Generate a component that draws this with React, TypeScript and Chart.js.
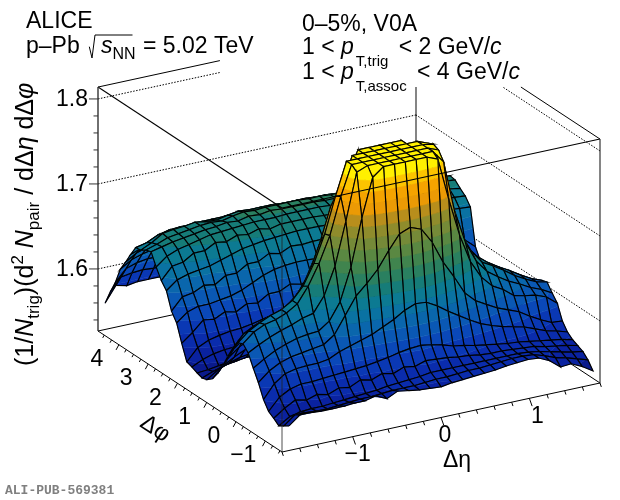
import * as React from 'react';
import {useEffect, useRef} from 'react';
import {Chart, registerables} from 'chart.js';

Chart.register(...registerables);

const FONT = '"Liberation Sans", Arial, sans-serif';

// bins of the correlation
const etaMin = -1.72;
const etaStep = 0.1229;
const phiMin = -Math.PI / 2;
const phiStep = (2 * Math.PI) / 36;

// axis ranges
const etaRange = [-1.8, 1.8];
const phiRange = [-Math.PI / 2, (3 * Math.PI) / 2];
const zRange = [1.527, 1.814];

const etaMajor = [-1, 0, 1];
const etaMinor = [-1.8, -1.6, -1.4, -1.2, -0.8, -0.6, -0.4, -0.2, 0.2, 0.4, 0.6, 0.8, 1.2, 1.4, 1.6, 1.8];
const phiMajor = [-1, 0, 1, 2, 3, 4];
const phiMinor = [-1.5, -1.25, -0.75, -0.5, -0.25, 0.25, 0.5, 0.75, 1.25, 1.5, 1.75, 2.25, 2.5, 2.75, 3.25, 3.5, 3.75, 4.25, 4.5];
const zMajor = [1.6, 1.7, 1.8];
const zMinor = [1.54, 1.56, 1.58, 1.62, 1.64, 1.66, 1.68, 1.72, 1.74, 1.76, 1.78];

const levelStep = 0.013;
const levelStart = 1.54;
const levelColors = [
  '#0a1a8c', '#0a22a0', '#0a2cac', '#0a38b4', '#0a48b8', '#0a58b4', '#0a66ac', '#0a72a2', '#0c7a92', '#167c78',
  '#2a8060', '#40844e', '#5a8842', '#758a38', '#8f8c2c', '#b88e1c', '#eb9a05', '#f5a300', '#fcc400', '#fff000',
];

// rows: dphi from -pi/2 up, columns: deta from -1.72 up
const zValues = [
  [1.556,1.566,1.566,1.565,1.565,1.565,1.566,1.566,1.569,1.563,1.569,1.567,1.565,1.564,1.563,1.565,1.566,1.567,1.568,1.569,1.571,1.572,1.573,1.572,1.566,1.556,1.557,1.551,1.543],
  [1.552,1.562,1.562,1.561,1.561,1.562,1.563,1.564,1.564,1.565,1.566,1.566,1.566,1.567,1.568,1.568,1.569,1.570,1.570,1.571,1.572,1.573,1.573,1.572,1.568,1.563,1.560,1.556,1.552],
  [1.548,1.556,1.559,1.560,1.560,1.561,1.562,1.563,1.564,1.565,1.567,1.568,1.569,1.570,1.572,1.572,1.572,1.572,1.572,1.572,1.572,1.572,1.572,1.571,1.569,1.566,1.563,1.560,1.558],
  [1.553,1.562,1.569,1.566,1.570,1.567,1.572,1.570,1.576,1.573,1.578,1.575,1.580,1.578,1.582,1.581,1.580,1.578,1.577,1.575,1.574,1.574,1.573,1.572,1.571,1.568,1.566,1.564,1.561],
  [1.557,1.571,1.578,1.581,1.581,1.582,1.583,1.584,1.585,1.586,1.588,1.590,1.593,1.595,1.596,1.594,1.591,1.587,1.585,1.582,1.580,1.578,1.576,1.575,1.573,1.571,1.569,1.567,1.564],
  [1.567,1.583,1.592,1.595,1.596,1.596,1.598,1.604,1.608,1.612,1.616,1.622,1.628,1.636,1.641,1.640,1.633,1.624,1.616,1.608,1.601,1.596,1.592,1.589,1.586,1.581,1.576,1.573,1.569],
  [1.583,1.594,1.601,1.605,1.607,1.609,1.611,1.620,1.640,1.660,1.672,1.686,1.705,1.722,1.727,1.722,1.704,1.678,1.658,1.636,1.624,1.617,1.610,1.605,1.600,1.592,1.585,1.579,1.578],
  [1.596,1.604,1.611,1.616,1.620,1.622,1.623,1.632,1.652,1.690,1.745,1.790,1.800,1.800,1.800,1.800,1.800,1.795,1.745,1.700,1.666,1.645,1.632,1.625,1.615,1.612,1.610,1.605,1.595],
  [1.610,1.617,1.623,1.628,1.632,1.637,1.640,1.658,1.690,1.740,1.795,1.800,1.800,1.800,1.800,1.800,1.800,1.800,1.785,1.725,1.685,1.660,1.645,1.636,1.628,1.622,1.615,1.610,1.603],
  [1.617,1.628,1.634,1.637,1.642,1.650,1.668,1.692,1.722,1.765,1.800,1.800,1.800,1.800,1.800,1.800,1.800,1.800,1.795,1.735,1.692,1.668,1.652,1.645,1.637,1.628,1.621,1.615,1.612],
  [1.614,1.625,1.632,1.638,1.642,1.650,1.664,1.688,1.720,1.762,1.800,1.800,1.800,1.800,1.800,1.800,1.800,1.800,1.798,1.738,1.695,1.670,1.655,1.645,1.637,1.630,1.622,1.615,1.610],
  [1.604,1.618,1.625,1.630,1.634,1.640,1.652,1.672,1.705,1.745,1.765,1.800,1.800,1.800,1.800,1.800,1.800,1.800,1.795,1.720,1.685,1.660,1.645,1.636,1.628,1.622,1.615,1.608,1.600],
  [1.590,1.606,1.615,1.620,1.624,1.630,1.640,1.656,1.684,1.715,1.745,1.772,1.800,1.800,1.800,1.800,1.800,1.775,1.735,1.695,1.665,1.645,1.632,1.624,1.618,1.612,1.604,1.596,1.590],
  [1.575,1.592,1.602,1.608,1.612,1.618,1.626,1.636,1.655,1.672,1.695,1.718,1.735,1.745,1.748,1.742,1.725,1.698,1.672,1.650,1.636,1.624,1.616,1.610,1.604,1.598,1.590,1.582,1.575],
  [1.562,1.578,1.588,1.594,1.598,1.600,1.603,1.608,1.614,1.622,1.630,1.640,1.652,1.662,1.664,1.660,1.650,1.638,1.625,1.615,1.608,1.602,1.598,1.594,1.590,1.584,1.578,1.572,1.565],
  [1.552,1.565,1.572,1.578,1.580,1.582,1.584,1.586,1.590,1.594,1.598,1.602,1.608,1.612,1.614,1.612,1.606,1.600,1.595,1.590,1.586,1.583,1.580,1.578,1.574,1.570,1.565,1.560,1.556],
  [1.547,1.556,1.561,1.565,1.567,1.568,1.570,1.571,1.573,1.575,1.578,1.581,1.584,1.586,1.587,1.586,1.583,1.580,1.577,1.574,1.572,1.570,1.568,1.566,1.563,1.560,1.556,1.553,1.550],
  [1.545,1.550,1.554,1.556,1.558,1.559,1.560,1.560,1.562,1.563,1.565,1.566,1.568,1.570,1.570,1.569,1.568,1.566,1.564,1.562,1.561,1.560,1.558,1.557,1.555,1.553,1.551,1.549,1.548],
  [1.547,1.548,1.550,1.552,1.553,1.553,1.554,1.555,1.555,1.556,1.557,1.558,1.559,1.560,1.560,1.560,1.559,1.558,1.557,1.556,1.555,1.554,1.553,1.552,1.551,1.550,1.549,1.548,1.548],
  [1.550,1.556,1.560,1.562,1.563,1.564,1.565,1.566,1.567,1.568,1.569,1.570,1.571,1.572,1.572,1.571,1.570,1.569,1.568,1.567,1.566,1.565,1.564,1.563,1.562,1.560,1.557,1.554,1.550],
  [1.552,1.566,1.572,1.575,1.577,1.578,1.580,1.583,1.586,1.588,1.590,1.590,1.590,1.590,1.589,1.588,1.587,1.586,1.585,1.584,1.582,1.580,1.578,1.576,1.573,1.570,1.565,1.560,1.555],
  [1.570,1.580,1.592,1.590,1.596,1.593,1.600,1.598,1.606,1.606,1.612,1.609,1.613,1.612,1.611,1.610,1.608,1.606,1.604,1.602,1.600,1.598,1.596,1.594,1.592,1.588,1.583,1.577,1.570],
  [1.590,1.600,1.604,1.604,1.606,1.608,1.612,1.618,1.624,1.628,1.630,1.631,1.631,1.630,1.630,1.629,1.628,1.626,1.624,1.622,1.620,1.618,1.615,1.612,1.609,1.604,1.598,1.592,1.585],
  [1.600,1.614,1.616,1.622,1.620,1.628,1.628,1.636,1.636,1.643,1.640,1.646,1.645,1.646,1.646,1.645,1.644,1.642,1.640,1.638,1.636,1.634,1.632,1.629,1.626,1.622,1.617,1.609,1.598],
  [1.620,1.630,1.634,1.636,1.638,1.642,1.646,1.650,1.652,1.654,1.655,1.656,1.657,1.657,1.657,1.656,1.655,1.654,1.653,1.652,1.650,1.648,1.647,1.646,1.645,1.644,1.643,1.642,1.641],
  [1.628,1.642,1.644,1.652,1.652,1.659,1.657,1.662,1.660,1.664,1.661,1.664,1.664,1.664,1.664,1.663,1.663,1.662,1.661,1.660,1.659,1.658,1.657,1.656,1.655,1.654,1.653,1.651,1.650],
  [1.640,1.650,1.655,1.658,1.661,1.664,1.665,1.666,1.667,1.668,1.668,1.668,1.669,1.669,1.669,1.669,1.668,1.668,1.667,1.666,1.665,1.664,1.663,1.662,1.661,1.660,1.658,1.657,1.655],
  [1.654,1.657,1.660,1.662,1.664,1.666,1.667,1.669,1.668,1.671,1.670,1.672,1.671,1.671,1.671,1.671,1.670,1.670,1.669,1.668,1.667,1.667,1.666,1.665,1.664,1.663,1.662,1.662,1.661],
  [1.652,1.656,1.661,1.663,1.665,1.667,1.668,1.667,1.670,1.672,1.671,1.672,1.672,1.672,1.672,1.671,1.671,1.670,1.670,1.669,1.668,1.667,1.666,1.665,1.665,1.664,1.663,1.662,1.662],
  [1.648,1.654,1.662,1.664,1.665,1.667,1.665,1.664,1.667,1.669,1.668,1.668,1.668,1.667,1.667,1.667,1.666,1.666,1.665,1.665,1.664,1.663,1.662,1.661,1.660,1.659,1.658,1.656,1.655],
  [1.647,1.650,1.656,1.659,1.660,1.660,1.661,1.661,1.661,1.662,1.662,1.661,1.661,1.661,1.661,1.660,1.660,1.660,1.659,1.659,1.658,1.657,1.656,1.655,1.654,1.652,1.650,1.648,1.645],
  [1.635,1.640,1.645,1.650,1.652,1.653,1.652,1.652,1.652,1.651,1.651,1.651,1.650,1.650,1.650,1.649,1.649,1.648,1.648,1.647,1.646,1.645,1.644,1.643,1.642,1.641,1.639,1.637,1.635],
  [1.622,1.630,1.634,1.638,1.640,1.641,1.640,1.640,1.639,1.639,1.638,1.638,1.637,1.637,1.636,1.636,1.635,1.635,1.634,1.633,1.632,1.631,1.630,1.629,1.628,1.626,1.624,1.622,1.620],
  [1.610,1.618,1.622,1.625,1.626,1.626,1.625,1.624,1.624,1.623,1.623,1.622,1.622,1.621,1.621,1.620,1.620,1.619,1.618,1.617,1.616,1.615,1.614,1.613,1.612,1.611,1.609,1.607,1.605],
  [1.590,1.604,1.608,1.610,1.610,1.609,1.608,1.608,1.607,1.607,1.606,1.606,1.605,1.605,1.604,1.604,1.603,1.603,1.602,1.601,1.600,1.599,1.598,1.597,1.596,1.595,1.594,1.592,1.590],
  [1.575,1.590,1.592,1.593,1.592,1.592,1.591,1.591,1.590,1.590,1.589,1.589,1.588,1.588,1.587,1.587,1.586,1.586,1.585,1.585,1.584,1.583,1.582,1.581,1.580,1.579,1.578,1.576,1.575],
  [1.558,1.576,1.573,1.575,1.575,1.575,1.574,1.574,1.573,1.573,1.572,1.572,1.571,1.571,1.570,1.570,1.570,1.569,1.569,1.568,1.568,1.567,1.566,1.565,1.564,1.563,1.562,1.561,1.560],
];

type Node3 = {eta: number; phi: number; z: number};

// the 3d box on the page, every mark goes through this
const project = (eta: number, phi: number, z: number) => {
  const u = (eta - etaRange[0]) / (etaRange[1] - etaRange[0]);
  const v = (phi - phiRange[0]) / (phiRange[1] - phiRange[0]);
  return {
    x: 282 + 318 * u - 184 * v,
    y: 452 - 69 * u - 121 * v - (z - zRange[0]) * 850,
  };
};

const lineSet = (points: {x: number; y: number}[], color: string, width: number, dash?: number[]) => ({
  data: points,
  showLine: true,
  fill: false,
  borderColor: color,
  borderWidth: width,
  borderDash: dash || [],
  pointRadius: 0,
  tension: 0,
});

const clipZ = (poly: Node3[], limit: number, keepAbove: boolean) => {
  const out: Node3[] = [];
  poly.forEach((a, k) => {
    const b = poly[(k + 1) % poly.length];
    const aIn = keepAbove ? a.z >= limit : a.z <= limit;
    const bIn = keepAbove ? b.z >= limit : b.z <= limit;
    if (aIn) out.push(a);
    if (aIn !== bIn) {
      const t = (limit - a.z) / (b.z - a.z);
      out.push({eta: a.eta + (b.eta - a.eta) * t, phi: a.phi + (b.phi - a.phi) * t, z: limit});
    }
  });
  return out;
};

const surfaceSets = () => {
  const sets: any[] = [];
  for (let j = zValues.length - 2; j >= 0; j--) {
    for (let i = zValues[j].length - 2; i >= 0; i--) {
      const node = (a: number, b: number): Node3 => ({
        eta: etaMin + a * etaStep,
        phi: phiMin + b * phiStep,
        z: zValues[b][a],
      });
      const cell = [node(i, j), node(i + 1, j), node(i + 1, j + 1), node(i, j + 1)];
      const lo = Math.min(...cell.map(c => c.z));
      const hi = Math.max(...cell.map(c => c.z));
      levelColors.forEach((color, k) => {
        const bandLo = k === 0 ? 0 : levelStart + k * levelStep;
        const bandHi = k === levelColors.length - 1 ? 9 : levelStart + (k + 1) * levelStep;
        if (hi < bandLo || lo > bandHi) return;
        const part = clipZ(clipZ(cell, bandLo, true), bandHi, false);
        if (part.length < 3) return;
        const points = part.map(p => project(p.eta, p.phi, p.z));
        points.push(points[0]);
        sets.push({...lineSet(points, color, 0.5), fill: 'shape', backgroundColor: color});
      });
      const outline = cell.map(p => project(p.eta, p.phi, p.z));
      outline.push(outline[0]);
      sets.push(lineSet(outline, '#000', 1.15));
    }
  }
  return sets;
};

const backSets = () => {
  const [eLo, eHi] = etaRange;
  const [pLo, pHi] = phiRange;
  const [zLo, zHi] = zRange;
  const dotted = [1.5, 1.5];
  const sets: any[] = [
    lineSet([project(eLo, pHi, zLo), project(eHi, pHi, zLo), project(eHi, pLo, zLo)], '#000', 1),
    lineSet([project(eLo, pHi, zHi), project(-0.42, pHi, zHi)], '#000', 1),
    lineSet([project(eHi, pLo, zHi), project(eHi, 1.13, zHi)], '#000', 1),
    lineSet([project(eHi, pHi, zLo), project(eHi, pHi, 1.733)], '#333', 1.2),
  ];
  zMajor.forEach(z => {
    const left = z === 1.8 ? -0.42 : eHi;
    const right = z === 1.8 ? 1.74 : pHi;
    sets.push(lineSet([project(eLo, pHi, z), project(left, pHi, z)], '#000', 1, dotted));
    sets.push(lineSet([project(eHi, pLo, z), project(eHi, right, z)], '#000', 1, dotted));
  });
  return sets;
};

const tickSet = (p: {x: number; y: number}, dx: number, dy: number, color = '#000') =>
  lineSet([p, {x: p.x + dx, y: p.y + dy}], color, 1);

const frontSets = () => {
  const [eLo, eHi] = etaRange;
  const [pLo, pHi] = phiRange;
  const [zLo, zHi] = zRange;
  const sets: any[] = [
    lineSet([project(eLo, pLo, zHi), project(eHi, pLo, zHi)], '#000', 1.1),
    lineSet([project(eLo, pHi, zHi), project(eLo, pLo, zHi)], '#000', 1.1),
    lineSet([project(eLo, pLo, zLo), project(eLo, pLo, zHi)], '#222', 0.8),
    lineSet([project(eLo, pHi, zLo), project(eLo, pHi, zHi)], '#333', 1.4),
    lineSet([project(eHi, pLo, zLo), project(eHi, pLo, zHi)], '#333', 1.2),
    lineSet([project(eLo, pLo, zLo), project(eHi, pLo, zLo)], '#000', 1),
    lineSet([project(eLo, pLo, zLo), project(eLo, pHi, zLo)], '#000', 1),
  ];
  etaMajor.forEach(e => sets.push(tickSet(project(e, pLo, zLo), 2.8, 7.8)));
  etaMinor.forEach(e => sets.push(tickSet(project(e, pLo, zLo), 1.3, 3.9)));
  phiMajor.forEach(p => sets.push(tickSet(project(eLo, p, zLo), -2.8, 5.2)));
  phiMinor.forEach(p => sets.push(tickSet(project(eLo, p, zLo), -1.5, 2.8)));
  zMajor.forEach(z => sets.push(tickSet(project(eLo, pHi, z), -9, 0, '#333')));
  zMinor.forEach(z => sets.push(tickSet(project(eLo, pHi, z), -4.5, 0, '#333')));
  return sets;
};

type Run = {t: string; size?: number; italic?: boolean; dy?: number; dx?: number};

const drawRuns = (ctx: CanvasRenderingContext2D, runs: Run[], x: number, y: number, base: number) => {
  let cx = x;
  runs.forEach(r => {
    cx += r.dx || 0;
    ctx.font = `${r.italic ? 'italic ' : ''}${r.size || base}px ${FONT}`;
    ctx.fillText(r.t, cx, y + (r.dy || 0));
    cx += ctx.measureText(r.t).width;
  });
  return cx;
};

const labelsPlugin = {
  id: 'aliceLabels',
  afterDraw(chart: any) {
    const ctx: CanvasRenderingContext2D = chart.ctx;
    ctx.save();
    ctx.fillStyle = '#000';
    ctx.textBaseline = 'alphabetic';
    ctx.textAlign = 'left';

    ctx.font = `23px ${FONT}`;
    ctx.fillText('ALICE', 26, 28);
    drawRuns(ctx, [{t: 'p–Pb'}], 26, 53, 23);
    const sEnd = drawRuns(ctx, [{t: 's', italic: true}, {t: 'NN', size: 16, dy: 6}], 101, 53, 23);
    ctx.strokeStyle = '#000';
    ctx.lineWidth = 1;
    ctx.beginPath();
    ctx.moveTo(89.3, 46.7);
    ctx.lineTo(92, 58);
    ctx.lineTo(95, 35);
    ctx.lineTo(132.5, 35);
    ctx.stroke();
    drawRuns(ctx, [{t: ' = 5.02 TeV'}], sEnd + 1, 53, 23);

    drawRuns(ctx, [{t: '0–5%, V0A'}], 302, 31, 23);
    drawRuns(ctx, [
      {t: '1 < '}, {t: 'p', italic: true}, {t: 'T,trig', size: 15, dy: 12, dx: 2},
      {t: ' < 2 GeV/', dx: 4}, {t: 'c', italic: true},
    ], 302, 54, 23);
    drawRuns(ctx, [
      {t: '1 < '}, {t: 'p', italic: true}, {t: 'T,assoc', size: 15, dy: 12, dx: 2},
      {t: ' < 4 GeV/', dx: 4}, {t: 'c', italic: true},
    ], 302, 79, 23);

    ctx.save();
    ctx.translate(33, 366);
    ctx.rotate(-Math.PI / 2);
    drawRuns(ctx, [
      {t: '(1/'}, {t: 'N', italic: true}, {t: 'trig', size: 17, dy: 6}, {t: ')(d'}, {t: '2', size: 17, dy: -10},
      {t: ' '}, {t: 'N', italic: true}, {t: 'pair', size: 17, dy: 6}, {t: ' / dΔ'}, {t: 'η', italic: true},
      {t: ' dΔ'}, {t: 'φ', italic: true},
    ], 0, 0, 25);
    ctx.restore();

    ctx.font = `23px ${FONT}`;
    ctx.textAlign = 'right';
    ctx.textBaseline = 'middle';
    zMajor.forEach(z => ctx.fillText(z.toFixed(1), 88, project(etaRange[0], phiRange[1], z).y + 1));

    ctx.textAlign = 'center';
    etaMajor.forEach(e => {
      const p = project(e, phiRange[0], zRange[0]);
      ctx.fillText(e < 0 ? `−${-e}` : `${e}`, p.x + (e === 1 ? 8 : e < 0 ? 5 : 4), p.y + 18);
    });
    phiMajor.forEach(f => {
      const p = project(etaRange[0], f, zRange[0]);
      ctx.fillText(f < 0 ? `−${-f}` : `${f}`, p.x - 22, p.y + 15);
    });

    ctx.fillText('Δη', 457, 461);
    ctx.save();
    ctx.translate(155, 429);
    ctx.rotate((33 * Math.PI) / 180);
    ctx.fillText('Δφ', 0, 0);
    ctx.restore();

    ctx.textAlign = 'left';
    ctx.fillStyle = '#808080';
    ctx.font = `bold 13px "Liberation Mono", monospace`;
    ctx.fillText('ALI-PUB-569381', 5, 491);
    ctx.restore();
  },
};

export default function App() {
  const canvasRef = useRef<HTMLCanvasElement>(null);

  useEffect(() => {
    document.body.style.margin = '0';
    const ctx = canvasRef.current!.getContext('2d')!;
    // first dataset is painted last
    const datasets = [...backSets(), ...surfaceSets(), ...frontSets()].reverse();
    const chart = new Chart(ctx, {
      type: 'scatter',
      data: {datasets},
      options: {
        animation: false,
        responsive: false,
        parsing: false,
        normalized: true,
        events: [],
        layout: {padding: 0},
        plugins: {legend: {display: false}, tooltip: {enabled: false}},
        scales: {
          x: {type: 'linear', min: 0, max: 620, display: false},
          y: {type: 'linear', min: 0, max: 500, reverse: true, display: false},
        },
      } as any,
      plugins: [labelsPlugin],
    });
    return () => chart.destroy();
  }, []);

  return <div style={{width: 620, height: 500, background: '#fff'}}>
    <canvas ref={canvasRef} width={620} height={500} style={{display: 'block'}} />
  </div>;
}
